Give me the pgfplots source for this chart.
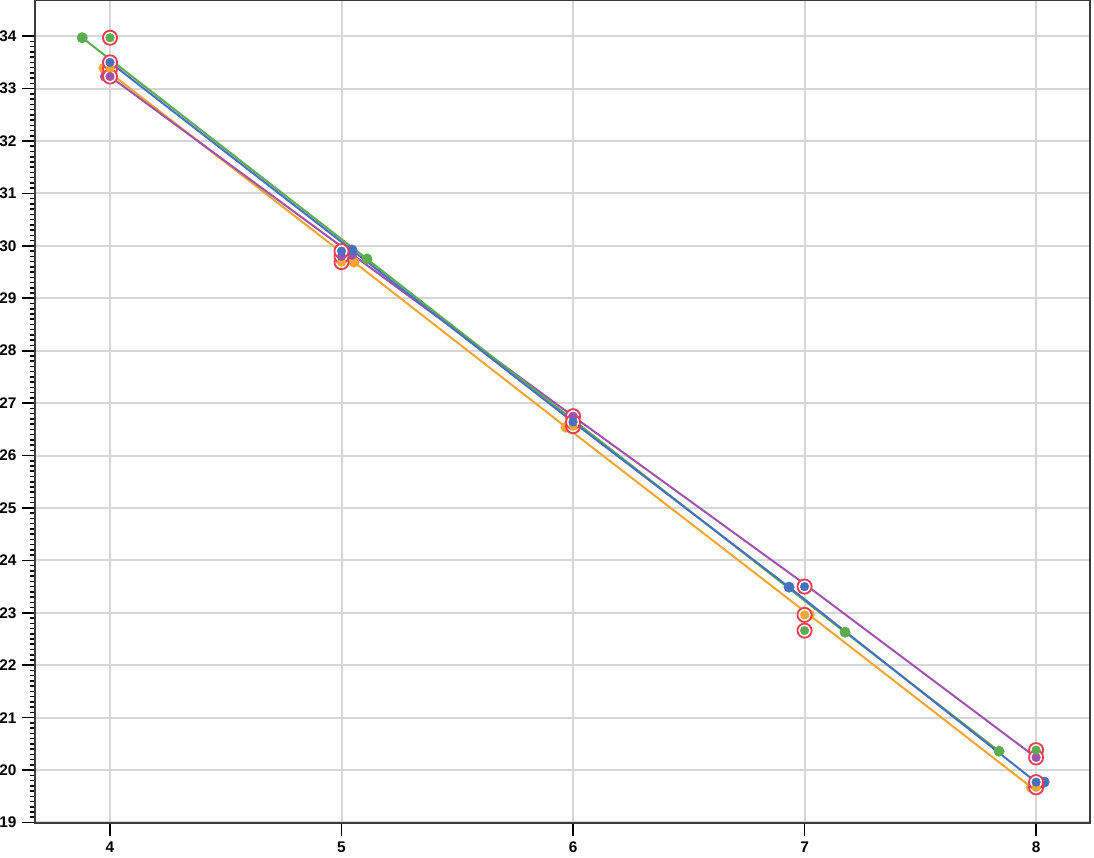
\documentclass[border=0pt]{standalone}
\usepackage{fontspec}
\setmainfont{Liberation Sans}
\usepackage{pgfplots}
\pgfplotsset{compat=1.18}
\definecolor{cgreen}{RGB}{92,172,82}
\definecolor{cblue}{RGB}{72,112,192}
\definecolor{cpurple}{RGB}{160,82,170}
\definecolor{corange}{RGB}{244,166,48}
\definecolor{cring}{RGB}{236,62,82}
\definecolor{gridgray}{RGB}{214,214,214}
\definecolor{axgray}{RGB}{60,60,60}
\begin{document}
\begin{tikzpicture}
\begin{axis}[
  scale only axis, width=685.75pt, height=534.95pt,
  xmin=3.676, xmax=8.233, ymin=18.99, ymax=34.69,
  xtick={4,5,6,7,8}, ytick={19,20,...,34},
  minor y tick num=9,
  tick align=outside, xtick pos=bottom, ytick pos=left,
  major tick length=8.5pt, minor tick length=3.2pt,
  grid=major, grid style={draw=gridgray, line width=1.3pt},
  axis line style={draw=axgray, line width=1.6pt},
  tick style={black, line width=1.1pt},
  minor tick style={black, line width=1pt},
  ticklabel style={font=\fontsize{10}{11}\selectfont\bfseries},
  /pgf/number format/assume math mode=true,
  every axis plot/.append style={line width=1.3pt},
]
% lines
\addplot[corange, mark=none] coordinates {(3.974,33.39) (5.054,29.69) (5.97,26.54) (7.02,22.96) (7.98,19.67)};
\addplot[cpurple, mark=none] coordinates {(4,33.23) (5.045,29.84) (6,26.75) (7,23.55) (8,20.24)};
\addplot[cgreen, mark=none] coordinates {(3.88,33.97) (5.11,29.75) (7.175,22.63) (7.84,20.36)};
\addplot[cblue, mark=none] coordinates {(4,33.50) (5.045,29.92) (6,26.64) (6.933,23.49) (8,19.77)};
% plain dots
\addplot[only marks, mark=*, mark size=3.4pt, mark options={draw=corange, fill=corange, line width=0.3pt}] coordinates {(3.974,33.39) (5.054,29.69) (5.97,26.54) (7.02,22.96) (7.98,19.67)};
\addplot[only marks, mark=*, mark size=3.4pt, mark options={draw=cpurple, fill=cpurple, line width=0.3pt}] coordinates {(3.98,33.23) (5.045,29.84)};
\addplot[only marks, mark=*, mark size=3.4pt, mark options={draw=cgreen, fill=cgreen, line width=0.3pt}] coordinates {(3.88,33.97) (5.11,29.75) (7.175,22.63) (7.84,20.36)};
\addplot[only marks, mark=*, mark size=3.4pt, mark options={draw=cblue, fill=cblue, line width=0.3pt}] coordinates {(3.99,33.50) (5.045,29.92) (6.933,23.49) (8.035,19.77)};
% ringed points
\addplot[only marks, mark=*, mark size=4.6pt, mark options={draw=cring, fill=white, line width=1.2pt}] coordinates {
(4,33.97) (4,33.38) (4,33.23) (4,33.50)
(5,29.69) (5,29.80) (5,29.90)
(6,26.56) (6,26.75) (6,26.64)
(7,22.96) (7,22.66) (7,23.50)
(8,19.67) (8,20.38) (8,20.24) (8,19.77)};
\addplot[only marks, mark=*, mark size=2.8pt, mark options={draw=corange, fill=corange, line width=0.3pt}] coordinates {(4,33.38) (5,29.69) (6,26.56) (7,22.96) (8,19.67)};
\addplot[only marks, mark=*, mark size=2.8pt, mark options={draw=cpurple, fill=cpurple, line width=0.3pt}] coordinates {(4,33.23) (5,29.80) (6,26.75) (8,20.24)};
\addplot[only marks, mark=*, mark size=2.8pt, mark options={draw=cgreen, fill=cgreen, line width=0.3pt}] coordinates {(4,33.97) (7,22.66) (8,20.38)};
\addplot[only marks, mark=*, mark size=2.8pt, mark options={draw=cblue, fill=cblue, line width=0.3pt}] coordinates {(4,33.50) (5,29.90) (6,26.64) (7,23.50) (8,19.77)};
\end{axis}
\pgfresetboundingbox
\path[use as bounding box] ([shift={(-22.75pt,-22.1pt)}]current axis.south west) rectangle ([shift={(2.6pt,0pt)}]current axis.north east);
\end{tikzpicture}
\end{document}
